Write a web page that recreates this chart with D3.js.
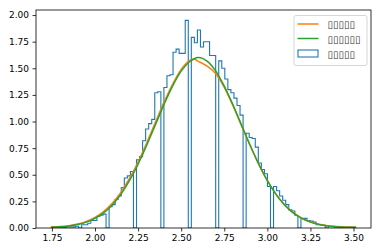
<!DOCTYPE html>
<html><head><meta charset="utf-8">
<script src="https://cdn.jsdelivr.net/npm/d3@7"></script>
<style>
html,body{margin:0;padding:0;background:#fff;}
svg{display:block;font-family:"DejaVu Sans",sans-serif;}
</style></head>
<body><svg id="chart" width="382" height="252"></svg>
<script>
// ---- data ----
const binStart = 1.746;
const binEnd = 3.513;
const histDensity = [
 0.006,0.0,0.006,0.006,0.006,0.011,0.011,0.011,0.017,0.0,
 0.03,0.03,0.045,0.07,0.07,0.11,0.12,0.13,0.0,0.2,
 0.22,0.27,0.30,0.38,0.47,0.49,0.53,0.0,0.64,0.67,
 0.82,0.93,0.98,1.02,1.27,1.28,0.0,1.32,1.43,1.44,
 1.65,1.68,1.64,1.64,1.95,0.0,1.79,1.74,1.86,1.70,
 1.75,1.75,1.62,1.62,0.0,1.57,1.50,1.40,1.30,1.27,
 1.22,1.15,1.06,0.0,0.89,0.85,0.84,0.76,0.61,0.55,
 0.51,0.39,0.0,0.39,0.35,0.30,0.26,0.22,0.17,0.16,
 0.12,0.0,0.09,0.09,0.07,0.065,0.055,0.03,0.03,0.025,
 0.0,0.015,0.015,0.01,0.006,0.006,0.006,0.0,0.006,0.006
];
const curveX = [1.746,1.80,1.85,1.90,1.95,2.00,2.05,2.10,2.15,2.20,2.25,2.30,2.35,2.40,2.45,2.50,2.55,2.575,2.60,2.65,2.70,2.75,2.80,2.85,2.90,2.95,3.00,3.05,3.10,3.15,3.20,3.25,3.30,3.35,3.40,3.45,3.513];
const kdeY = [0.012,0.015,0.022,0.037,0.062,0.10,0.155,0.232,0.335,0.465,0.62,0.80,0.99,1.18,1.35,1.49,1.575,1.585,1.565,1.52,1.45,1.32,1.15,0.96,0.775,0.60,0.445,0.318,0.218,0.145,0.093,0.058,0.036,0.022,0.014,0.010,0.008];
const normY = [0.008,0.011,0.019,0.033,0.055,0.09,0.142,0.216,0.316,0.444,0.599,0.777,0.968,1.159,1.333,1.473,1.564,1.59,1.602,1.568,1.476,1.333,1.159,0.968,0.777,0.599,0.444,0.316,0.216,0.142,0.09,0.055,0.033,0.019,0.011,0.007,0.006];
const yTicks = [0,0.25,0.5,0.75,1.0,1.25,1.5,1.75,2.0];
const xTicks = [1.75,2.0,2.25,2.5,2.75,3.0,3.25,3.5];
const legendLabels = ["▯▯▯▯▯","▯▯▯▯▯▯","▯▯▯▯▯"];
const colors = {hist:"#1f77b4", kde:"#ff7f0e", norm:"#2ca02c"};

// ---- layout ----
const svg = d3.select("#chart");
const L = 36, R = 371, T = 10, B = 228;
const nb = histDensity.length;
const bw = (binEnd - binStart) / nb;
const edges = d3.range(nb + 1).map(i => binStart + i * bw);
const xmin = Math.min(binStart, curveX[0]), xmax = Math.max(binEnd, curveX[curveX.length-1]);
const pad = (xmax - xmin) * 0.05;
const x = d3.scaleLinear().domain([xmin - pad, xmax + pad]).range([L, R]);
const ymax = d3.max(histDensity.concat(kdeY, normY)) * 1.05;
const y = d3.scaleLinear().domain([0, ymax]).range([B, T]);

const g = svg.append("g");
g.append("defs").append("clipPath").attr("id","clip").append("rect")
  .attr("x",L).attr("y",T).attr("width",R-L).attr("height",B-T);

// histogram step outline
const pts = [[edges[0], 0]];
histDensity.forEach((h,i) => { pts.push([edges[i], h]); pts.push([edges[i+1], h]); });
pts.push([edges[nb], 0]);
g.append("path").attr("clip-path","url(#clip)")
  .attr("d", d3.line().x(d=>x(d[0])).y(d=>y(d[1]))(pts))
  .attr("fill","none").attr("stroke",colors.hist).attr("stroke-width",1.1);

const line = d3.line().x(d=>x(d[0])).y(d=>y(d[1])).curve(d3.curveMonotoneX);
g.append("path").attr("d", line(curveX.map((v,i)=>[v,kdeY[i]])))
  .attr("fill","none").attr("stroke",colors.kde).attr("stroke-width",1.5);
g.append("path").attr("d", line(curveX.map((v,i)=>[v,normY[i]])))
  .attr("fill","none").attr("stroke",colors.norm).attr("stroke-width",1.5);

// axes
const ax = svg.append("g").attr("transform",`translate(0,${B})`)
  .call(d3.axisBottom(x).tickValues(xTicks).tickFormat(d3.format(".2f")).tickSize(3.5).tickPadding(3.5));
const ay = svg.append("g").attr("transform",`translate(${L},0)`)
  .call(d3.axisLeft(y).tickValues(yTicks).tickFormat(d3.format(".2f")).tickSize(3.5).tickPadding(3.5));
[ax, ay].forEach(a => {
  a.select(".domain").remove();
  a.selectAll("line").attr("stroke","#000").attr("stroke-width",0.8);
  a.selectAll("text").attr("font-size",9).attr("fill","#000").attr("font-family","DejaVu Sans");
});
svg.append("rect").attr("x",L).attr("y",T).attr("width",R-L).attr("height",B-T)
  .attr("fill","none").attr("stroke","#000").attr("stroke-width",0.8);

// legend
const lg = svg.append("g");
lg.append("rect").attr("x",294).attr("y",15.5).attr("width",73).attr("height",50).attr("rx",2)
  .attr("fill","#fff").attr("fill-opacity",0.8).attr("stroke","#cccccc").attr("stroke-width",0.8);
const rows = [24, 38.5, 53.5];
lg.append("line").attr("x1",297.5).attr("x2",318.5).attr("y1",rows[0]).attr("y2",rows[0]).attr("stroke",colors.kde).attr("stroke-width",1.5);
lg.append("line").attr("x1",297.5).attr("x2",318.5).attr("y1",rows[1]).attr("y2",rows[1]).attr("stroke",colors.norm).attr("stroke-width",1.5);
lg.append("rect").attr("x",298).attr("y",rows[2]-3.5).attr("width",20).attr("height",7)
  .attr("fill","none").attr("stroke",colors.hist).attr("stroke-width",1.1);
legendLabels.forEach((t,i) => {
  lg.append("text").attr("x",327.5).attr("y",rows[i]+4).attr("font-size",10)
    .attr("fill","#333").attr("textLength", t.length*5.5).attr("lengthAdjust","spacingAndGlyphs").text(t);
});
</script></body></html>
